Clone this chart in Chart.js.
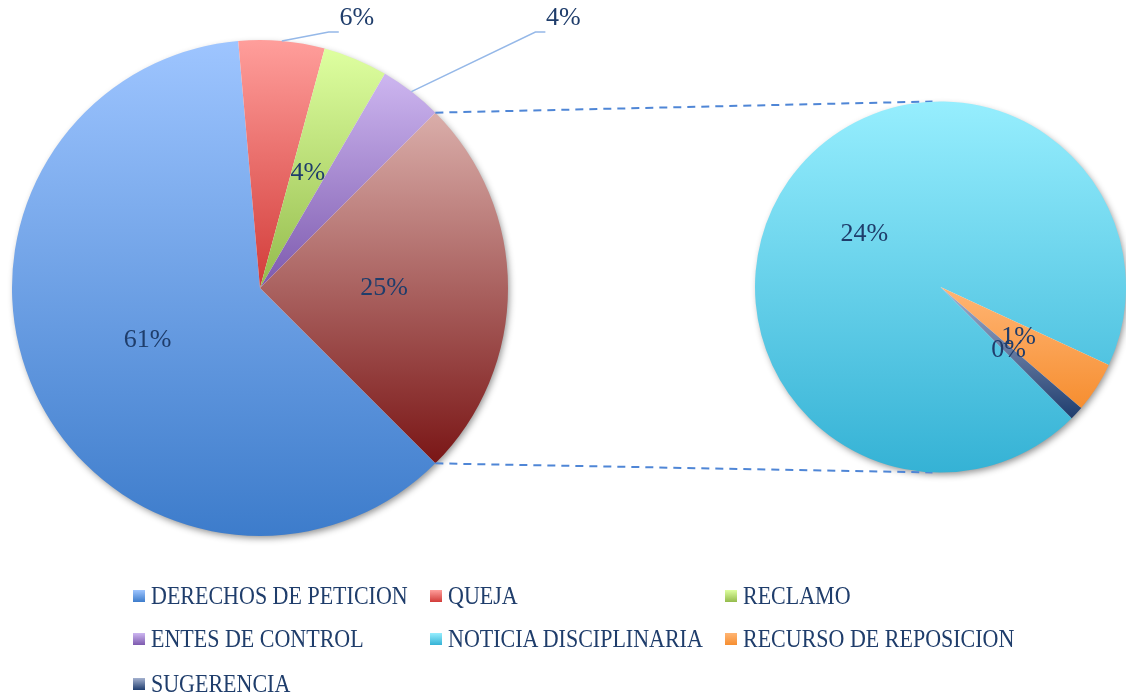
<!DOCTYPE html>
<html lang="es">
<head>
  <meta charset="UTF-8" />
  <title>Tipos de solicitud</title>
  <script src="https://cdn.jsdelivr.net/npm/chart.js"></script>
  <style>
    body {
      margin: 0;
      background: #fff;
      overflow: hidden;
    }
    #wrap {
      position: relative;
      width: 1126px;
      height: 695px;
    }
    #wrap canvas {
      position: absolute;
      left: 0;
      top: 0;
    }
    #legend {
      position: absolute;
      left: 0;
      top: 0;
      font-family: "Liberation Serif", serif;
      font-size: 22px;
      color: #1F3D6B;
    }
    .item {
      position: absolute;
      display: flex;
      align-items: center;
      white-space: nowrap;
      transform: translateY(-50%);
    }
    .box {
      width: 12px;
      height: 12px;
      margin-right: 6px;
    }
    .txt {
      display: inline-block;
      transform: scaleY(1.17);
    }
  </style>
</head>
<body>
  <div id="wrap">
    <canvas id="mainPie" width="1126" height="695"></canvas>
    <canvas id="subPie" width="1126" height="695"></canvas>
    <div id="legend"></div>
  </div>

  <script>
    // datos (porcentaje del total)
    const categories = ['DERECHOS DE PETICION', 'QUEJA', 'RECLAMO', 'ENTES DE CONTROL',
                        'NOTICIA DISCIPLINARIA', 'RECURSO DE REPOSICION', 'SUGERENCIA'];
    const mainValues = [61.1, 5.6, 4.2, 4.1];      // primeras 4 categorias
    const subValues = [23.6, 1.1, 0.3];            // las 3 del segundo circulo
    const otherLabel = 'Otro';

    const lightColors = ['#9EC5FF', '#FF9E9B', '#DEFFA0', '#CDB6F0', '#96EEFE', '#FFB574', '#A4B1CF'];
    const darkColors  = ['#3D7CCB', '#D23C39', '#94BB4C', '#7D5AAE', '#35B2D5', '#F68E30', '#1F3D6E'];
    const otherLight = '#DAAEAA', otherDark = '#7A1616';

    const ROT = 135;
    const TEXT = '#1F3D6B';

    const subTotal = subValues.reduce((a, b) => a + b, 0);
    const mainData = [...mainValues, subTotal];
    const grandTotal = mainData.reduce((a, b) => a + b, 0);

    // gradiente vertical por porcion (como en Excel)
    function sliceGradient(ctx, light, dark) {
      const chart = ctx.chart, area = chart.chartArea;
      if (!area) return dark;
      const data = ctx.dataset.data;
      const total = data.reduce((a, b) => a + b, 0);
      let before = 0;
      for (let i = 0; i < ctx.dataIndex; i++) before += data[i];
      const TAU = Math.PI * 2;
      const a0 = (ROT - 90) * Math.PI / 180 + before / total * TAU;
      const a1 = a0 + data[ctx.dataIndex] / total * TAU;
      const cx = (area.left + area.right) / 2, cy = (area.top + area.bottom) / 2;
      const r = Math.min(area.width, area.height) / 2;
      let top = Math.min(cy, cy + r * Math.sin(a0), cy + r * Math.sin(a1));
      let bottom = Math.max(cy, cy + r * Math.sin(a0), cy + r * Math.sin(a1));
      const has = a => a0 + (((a - a0) % TAU) + TAU) % TAU <= a1;
      if (has(-Math.PI / 2)) top = cy - r;
      if (has(Math.PI / 2)) bottom = cy + r;
      const g = chart.ctx.createLinearGradient(0, top, 0, bottom);
      g.addColorStop(0, light);
      g.addColorStop(1, dark);
      return g;
    }

    const shadowPlugin = {
      id: 'pieShadow',
      beforeDatasetsDraw(chart) {
        const arc = chart.getDatasetMeta(0).data[0];
        const c = chart.ctx;
        c.save();
        c.shadowColor = 'rgba(0,0,0,0.45)';
        c.shadowBlur = 7;
        c.shadowOffsetX = 2;
        c.shadowOffsetY = 3;
        c.fillStyle = '#fff';
        c.beginPath();
        c.arc(arc.x, arc.y, arc.outerRadius - 1, 0, Math.PI * 2);
        c.fill();
        c.restore();
      }
    };

    const labelPlugin = {
      id: 'pctLabels',
      afterDatasetsDraw(chart, args, opts) {
        const meta = chart.getDatasetMeta(0);
        const values = chart.data.datasets[0].data;
        const c = chart.ctx;
        c.save();
        c.font = '26px "Liberation Serif"';
        c.fillStyle = TEXT;
        c.textAlign = 'center';
        c.textBaseline = 'middle';
        meta.data.forEach((arc, i) => {
          const txt = Math.round(values[i] / grandTotal * 100) + '%';
          const dx = opts.outside ? opts.outside[i] : undefined;
          if (dx !== undefined) {
            const mid = (arc.startAngle + arc.endAngle) / 2;
            const ex = arc.x + arc.outerRadius * Math.cos(mid);
            const ey = arc.y + arc.outerRadius * Math.sin(mid);
            const lx = ex + dx, ly = chart.chartArea.top - 22;
            c.strokeStyle = '#95B8E8';
            c.lineWidth = 1.5;
            c.beginPath();
            c.moveTo(ex, ey);
            c.lineTo(lx - 28, ly + 14);
            c.lineTo(lx - 18, ly + 14);
            c.stroke();
            c.fillText(txt, lx, ly);
          } else {
            const p = arc.tooltipPosition(false);
            c.fillText(txt, p.x, p.y);
          }
        });
        c.restore();
      }
    };

    let mainChart;

    const connectorPlugin = {
      id: 'connectors',
      beforeDatasetsDraw(chart) {
        const src = mainChart.getDatasetMeta(0).data[mainData.length - 1];
        const dst = chart.getDatasetMeta(0).data[0];
        const c = chart.ctx;
        c.save();
        c.setLineDash([8, 6]);
        c.strokeStyle = '#4F86D6';
        c.lineWidth = 2;
        c.beginPath();
        c.moveTo(src.x + src.outerRadius * Math.cos(src.startAngle), src.y + src.outerRadius * Math.sin(src.startAngle));
        c.lineTo(dst.x - 8, dst.y - dst.outerRadius);
        c.moveTo(src.x + src.outerRadius * Math.cos(src.endAngle), src.y + src.outerRadius * Math.sin(src.endAngle));
        c.lineTo(dst.x - 8, dst.y + dst.outerRadius);
        c.stroke();
        c.restore();
      }
    };

    const baseOptions = {
      responsive: false,
      animation: false,
      events: [],
      rotation: ROT,
      elements: { arc: { borderWidth: 0 } },
      plugins: { legend: { display: false }, tooltip: { enabled: false } }
    };

    const mainLight = [...lightColors.slice(0, 4), otherLight];
    const mainDark = [...darkColors.slice(0, 4), otherDark];

    mainChart = new Chart(document.getElementById('mainPie'), {
      type: 'pie',
      data: {
        labels: [...categories.slice(0, 4), otherLabel],
        datasets: [{
          data: mainData,
          backgroundColor: ctx => sliceGradient(ctx, mainLight[ctx.dataIndex], mainDark[ctx.dataIndex])
        }]
      },
      options: {
        ...baseOptions,
        layout: { padding: { left: 12, top: 40, right: 618, bottom: 159 } },
        plugins: { ...baseOptions.plugins, pctLabels: { outside: { 1: 75, 3: 152 } } }
      },
      plugins: [shadowPlugin, labelPlugin]
    });

    const subLight = lightColors.slice(4), subDark = darkColors.slice(4);

    new Chart(document.getElementById('subPie'), {
      type: 'pie',
      data: {
        labels: categories.slice(4),
        datasets: [{
          data: subValues,
          backgroundColor: ctx => sliceGradient(ctx, subLight[ctx.dataIndex], subDark[ctx.dataIndex])
        }]
      },
      options: {
        ...baseOptions,
        layout: { padding: { left: 755, top: 101, right: 0, bottom: 222 } },
        plugins: { ...baseOptions.plugins, pctLabels: {} }
      },
      plugins: [shadowPlugin, connectorPlugin, labelPlugin]
    });

    // leyenda en 3 columnas
    const legendCols = [133, 430, 725];
    const legendRows = [596, 639, 684];
    const legend = document.getElementById('legend');
    categories.forEach((name, i) => {
      const item = document.createElement('div');
      item.className = 'item';
      item.style.left = legendCols[i % 3] + 'px';
      item.style.top = legendRows[Math.floor(i / 3)] + 'px';
      item.innerHTML = `<span class="box" style="background:linear-gradient(${lightColors[i]}, ${darkColors[i]})"></span><span class="txt">${name}</span>`;
      legend.appendChild(item);
    });
  </script>
</body>
</html>
